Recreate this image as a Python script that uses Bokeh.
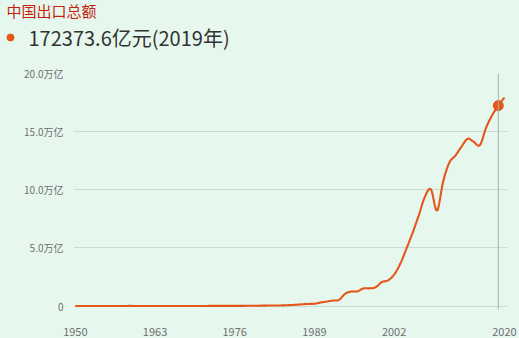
import numpy as np
from bokeh.plotting import figure
from bokeh.layouts import column, row
from bokeh.models import FixedTicker, Span, Range1d
from bokeh.core.properties import value
from bokeh.embed import file_html
from bokeh.resources import INLINE

title_text = "中国出口总额"
highlight_text = "172373.6亿元(2019年)"
highlight_year = 2019

years = list(range(1950, 2021))
# China total exports, 亿元
exports = [
    20.2, 24.2, 27.1, 34.8, 40.0, 48.7, 55.7, 54.5, 67.0, 78.1,
    63.3, 47.7, 47.1, 50.0, 55.4, 63.1, 66.0, 58.8, 57.6, 59.8,
    56.8, 68.5, 82.9, 116.9, 139.4, 143.0, 134.8, 139.7, 167.6, 211.7,
    271.2, 367.6, 413.8, 438.3, 580.5, 808.9, 1082.1, 1470.0, 1766.7, 1956.0,
    2985.8, 3827.1, 4676.3, 5284.8, 10421.8, 12451.8, 12576.4, 15160.7, 15223.6, 16159.8,
    20634.4, 22024.4, 26947.9, 36287.9, 49103.3, 62648.1, 77597.2, 93627.1, 100394.9, 82029.7,
    107022.8, 123240.6, 129359.3, 137131.4, 143883.8, 141166.8, 138419.3, 153309.4, 164127.8, 172373.6,
    179326.4,
]
x_ticks = [1950, 1963, 1976, 1989, 2002, 2020]
y_ticks = [0, 5, 10, 15, 20]
y_tick_labels = {0: "0", 5: "5.0万亿", 10: "10.0万亿", 15: "15.0万亿", 20: "20.0万亿"}

FONT = "Noto Sans CJK SC"
LINE = "#E5561A"
BG = "#E6F8EE"
W = 519
HEADER_H = 60

xs = np.array(years, dtype=float)
ys = np.array(exports) / 10000.0


def catmull_rom(x, y, n=8):
    px = np.concatenate([[x[0]], x, [x[-1]]])
    py = np.concatenate([[y[0]], y, [y[-1]]])
    ox, oy = [], []
    for i in range(1, len(px) - 2):
        t = np.linspace(0, 1, n, endpoint=False)
        for arr, out in ((px, ox), (py, oy)):
            p0, p1, p2, p3 = arr[i - 1], arr[i], arr[i + 1], arr[i + 2]
            out.extend(0.5 * ((2 * p1) + (-p0 + p2) * t + (2 * p0 - 5 * p1 + 4 * p2 - p3) * t ** 2
                              + (-p0 + 3 * p1 - 3 * p2 + p3) * t ** 3))
    ox.append(x[-1])
    oy.append(y[-1])
    return ox, oy


# ---- header (pixel-space figure) ----
h = figure(width=W, height=HEADER_H, output_backend="svg", toolbar_location=None,
           x_range=Range1d(0, W), y_range=Range1d(HEADER_H, 0),
           min_border=0, x_axis_type=None, y_axis_type=None)
h.background_fill_color = BG
h.border_fill_color = BG
h.outline_line_color = None
h.xgrid.visible = False
h.ygrid.visible = False
h.text(x=[6], y=[10], text=[title_text], text_font=value(FONT), text_font_size="15px",
       text_color="#C81E0F", text_baseline="middle", text_align="left")
h.scatter(x=[10], y=[37], size=7, color=LINE)
h.text(x=[28], y=[37], text=[highlight_text], text_font=value(FONT), text_font_size="20px",
       text_color="#333333", text_baseline="middle", text_align="left")

# ---- main chart ----
FL, FT, FB = 73, 73 - HEADER_H, 28
sx, sy = catmull_rom(xs, ys)

p = figure(width=W, height=338 - HEADER_H, output_backend="svg", toolbar_location=None,
           x_range=Range1d(1949.7, 2020.5), y_range=Range1d(-0.3, 20.0),
           min_border_left=FL, min_border_right=12, min_border_top=FT, min_border_bottom=FB)
p.background_fill_color = BG
p.border_fill_color = BG
p.outline_line_color = None

p.line(sx, sy, line_color=LINE, line_width=2.1)
hi = years.index(highlight_year)
p.scatter([years[hi]], [ys[hi]], size=10, color=LINE)
p.add_layout(Span(location=highlight_year, dimension="height", line_color="#A3B5AA", line_width=1))

p.xgrid.visible = False
p.ygrid.grid_line_color = "#C9DDD1"
p.ygrid.grid_line_width = 1

for ax in (p.xaxis[0], p.yaxis[0]):
    ax.axis_line_color = None
    ax.major_tick_line_color = None
    ax.minor_tick_line_color = None
    ax.major_label_text_font = FONT
    ax.major_label_text_color = "#6E6E6E"

p.xaxis.major_label_text_font_size = "11px"
p.yaxis.major_label_text_font_size = "10px"
p.xaxis.ticker = FixedTicker(ticks=x_ticks)
p.xaxis.major_label_standoff = 12
p.yaxis.ticker = FixedTicker(ticks=y_ticks)
p.yaxis.major_label_overrides = y_tick_labels
p.yaxis.major_label_standoff = 4

layout = column(row(h, spacing=0, styles={"background-color": BG}), p, spacing=0,
                styles={"background-color": BG})
open("out.html", "w").write(file_html(layout, INLINE))
